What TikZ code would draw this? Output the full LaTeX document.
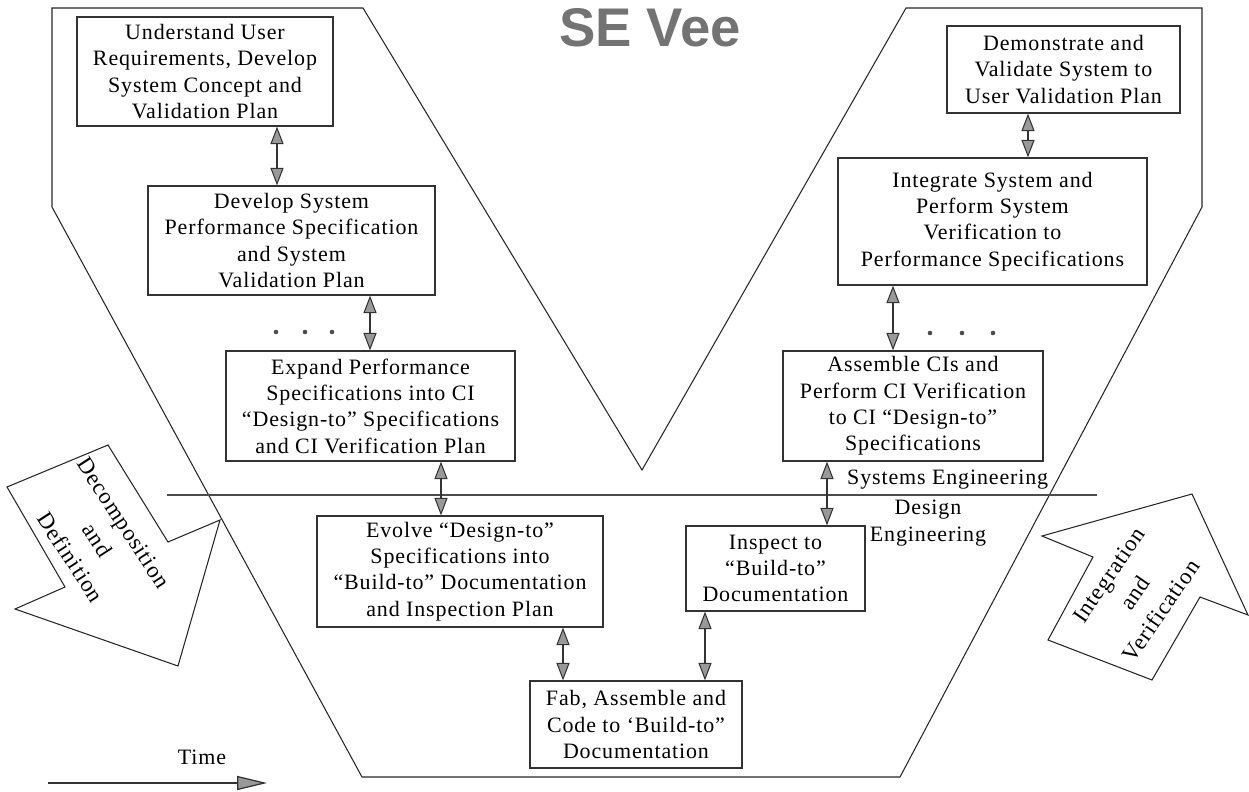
\documentclass[tikz,border=0pt]{standalone}
\usepackage{fontspec}
\setmainfont[LetterSpace=4]{Liberation Serif}
\newfontfamily\headfont{Liberation Sans}
\usepackage{tikz}
\usetikzlibrary{positioning, arrows.meta}

\begin{document}
\begin{tikzpicture}[
      x=0.02cm, y=-0.02cm,
      stage/.style={draw=black!80, line width=0.7pt, fill=white, align=center,
          font=\fontsize{12.5}{15}\selectfont, inner sep=2pt},
      link/.style={black!80, line width=0.6pt,
          {Triangle[width=7.5pt,length=10pt,fill=black!40]}-{Triangle[width=7.5pt,length=10pt,fill=black!40]}},
      lbl/.style={font=\fontsize{12.5}{15}\selectfont},
      bigarrow/.style={draw=black!85, line width=0.6pt, line join=miter},
    ]
    \useasboundingbox (0,0) rectangle (1249,792);

    % Vee outline
    \draw[black!85, line width=0.6pt, line join=miter]
    (52,8) -- (363,8) -- (642,470) -- (906,8) -- (1202,8) -- (1202,207)
    -- (900,777) -- (362,777) -- (52,207) -- cycle;

    % Title
    \node[font=\headfont\bfseries\fontsize{31}{36}\selectfont, text=black!55] (title) at (650,28) {SE Vee};

    % Boundary between the two disciplines
    \coordinate (sepL) at (167,495);
    \coordinate (sepR) at (1097,495);
    \draw[black!70, line width=1.3pt] (sepL) -- (sepR);

    % Stage boxes
    \foreach \nm/\cx/\cy/\w/\h/\txt in {
    B1/205/71.5/5.12/2.18/{Understand User\\Requirements, Develop\\System Concept and\\Validation Plan},
      B2/291.5/240.5/5.74/2.18/{Develop System\\Performance Specification\\and System\\Validation Plan},
      B3/370.5/406/5.78/2.2/{Expand Performance\\Specifications into CI\\“Design-to” Specifications\\and CI Verification Plan},
      B4/460/571.5/5.72/2.22/{Evolve “Design-to”\\Specifications into\\“Build-to” Documentation\\and Inspection Plan},
      B5/636/724.5/4.24/1.74/{Fab, Assemble and\\Code to ‘Build-to”\\Documentation},
      B6/775.5/568.5/3.58/1.7/{Inspect to\\“Build-to”\\Documentation},
      B7/913/406/5.2/2.2/{Assemble CIs and\\Perform CI Verification\\to CI “Design-to”\\Specifications},
      B8/992.5/221.5/6.18/2.54/{Integrate System and\\Perform System\\Verification to\\Performance Specifications},
      B9/1063.5/69.5/4.66/1.74/{Demonstrate and\\Validate System to\\User Validation Plan}}{
      \node[stage, minimum width=\w cm, minimum height=\h cm] (\nm) at (\cx,\cy) {\txt};
      }

    % Two-way links between levels
    \foreach \a/\b/\xa in {B1/B2/277, B2/B3/370, B3/B4/441, B4/B5/563,
        B6/B5/705, B7/B6/827, B8/B7/893, B9/B8/1028}{
      \draw[link] (\a.south -| \xa,0) -- (\b.north -| \xa,0);
      }

    % Ellipsis dots
    \foreach \dx in {276, 305, 332}{
      \fill[black!70] (\dx,332) circle[radius=1.3pt];
      }
    \foreach \dx in {930, 962, 993}{
      \fill[black!70] (\dx,333) circle[radius=1.3pt];
      }

    % Discipline labels
    \node[lbl, anchor=west] (seLbl) at (841,480) {Systems Engineering};
    \node[lbl, align=center] (deLbl) at (928,523) {Design\\Engineering};

    % Side arrows
    \draw[bigarrow] (7,487) -- (108,445) -- (168,542) -- (220,520) -- (178,666)
    -- (15,609) -- (65,587) -- cycle;
    \node[font=\fontsize{13}{18}\selectfont, align=center, rotate=-57] (decomp) at (97,540)
    {Decomposition\\and\\Definition};

    \draw[bigarrow] (1042,536) -- (1192,494) -- (1248,615) -- (1200,597) -- (1152,680)
    -- (1048,640) -- (1093,557) -- cycle;
    \node[font=\fontsize{13}{18}\selectfont, align=center, rotate=55.5] (integ) at (1135,593)
    {Integration\\and\\Verification};

    % Time axis
    \node[lbl] (time) at (202,757) {Time};
    \coordinate (t0) at (48,783);
    \coordinate (t1) at (267,783);
    \draw[black!80, line width=0.7pt, -{Triangle[width=8pt,length=17pt,fill=black!40]}] (t0) -- (t1);
  \end{tikzpicture}
\end{document}
